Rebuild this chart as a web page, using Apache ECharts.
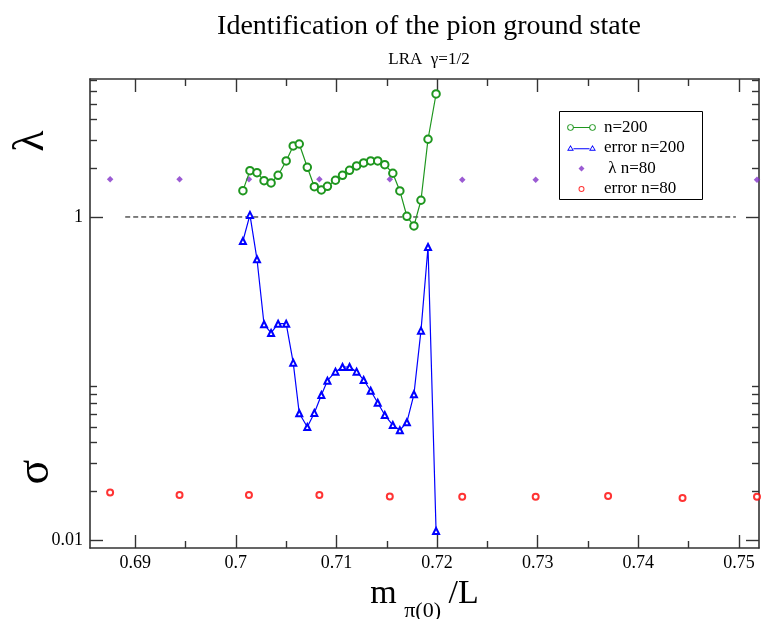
<!DOCTYPE html>
<html>
<head>
<meta charset="utf-8">
<script src="https://cdn.jsdelivr.net/npm/echarts@6/dist/echarts.min.js"></script>
<style>
html, body { margin: 0; padding: 0; background: #fff; }
#chart { width: 761px; height: 619px; }
</style>
</head>
<body>
<div id="chart"></div>
<script>
// ---- data ----
const n200X = [0.7007, 0.7014, 0.7021, 0.7028, 0.7035, 0.7042, 0.7050, 0.7057, 0.7063, 0.7071,
               0.7078, 0.7085, 0.7091, 0.7099, 0.7106, 0.7113, 0.7120, 0.7127, 0.7134, 0.7141,
               0.7148, 0.7156, 0.7163, 0.7170, 0.7177, 0.7184, 0.7191, 0.7199];
const n200Lambda = [1.455, 1.935, 1.880, 1.678, 1.624, 1.812, 2.222, 2.752, 2.831, 2.031,
                    1.540, 1.469, 1.549, 1.688, 1.812, 1.946, 2.069, 2.160, 2.222, 2.222,
                    2.108, 1.865, 1.449, 1.010, 0.880, 1.269, 3.028, 5.775];
const n200Error = [0.710, 1.030, 0.547, 0.2166, 0.1913, 0.2184, 0.2184, 0.1253, 0.0609, 0.0501,
                   0.0612, 0.0790, 0.0969, 0.1102, 0.1178, 0.1178, 0.1102, 0.0979, 0.0840, 0.0708,
                   0.0594, 0.0515, 0.0478, 0.0536, 0.0798, 0.1977, 0.652, 0.01137];

const n80X = [0.6875, 0.6944, 0.7013, 0.7083, 0.7153, 0.7225, 0.7298, 0.7370, 0.7444, 0.7518];
const n80Lambda = [1.71, 1.71, 1.71, 1.71, 1.71, 1.70, 1.70, 1.70, 1.70, 1.70];
const n80Error = [0.0197, 0.0190, 0.0190, 0.0190, 0.0186, 0.0185, 0.0185, 0.0187, 0.0182, 0.0185];

const refLineX = [0.689, 0.7497];
const refLineY = 1;

const xRange = [0.6855, 0.752];
const yRange = [0.00892, 7.15];
const xTicks = [0.69, 0.70, 0.71, 0.72, 0.73, 0.74, 0.75];
const xMinorTicks = [0.695, 0.705, 0.715, 0.725, 0.735, 0.745];
const yTicks = [0.01, 1];
const yTickLabels = ['0.01', '1'];
const yMinorTicks = [0.02, 0.03, 0.04, 0.05, 0.06, 0.07, 0.08, 0.09, 2, 3, 4, 5, 6, 7];

// ---- styling ----
const FONT = 'Liberation Serif, Times New Roman, serif';
const GREEN = '#1e961e';
const BLUE = '#0000ff';
const PURPLE = '#8232c8';
const RED = '#ff0000';
const AXIS = '#333';

const zip = (xs, ys) => xs.map((x, i) => [x, ys[i]]);
const lg = v => Math.log10(v);

// legend icons drawn in a 29x8 box; the two tiny segments pin the box extent
const FRAME = 'M0,0 L0.001,0 M29,8 L28.999,8 ';
function ring(cx, cy, R, r) {
  return `M${cx - R},${cy} A${R},${R} 0 1 1 ${cx + R},${cy} A${R},${R} 0 1 1 ${cx - R},${cy} Z ` +
         `M${cx - r},${cy} A${r},${r} 0 1 0 ${cx + r},${cy} A${r},${r} 0 1 0 ${cx - r},${cy} Z `;
}
function tri(cx, cy) {
  return `M${cx},${cy - 3.3} L${cx + 3.4},${cy + 2.5} L${cx - 3.4},${cy + 2.5} Z ` +
         `M${cx},${cy - 1.5} L${cx - 1.9},${cy + 1.5} L${cx + 1.9},${cy + 1.5} Z `;
}
function bar(x0, x1, cy) {
  return `M${x0},${cy - 0.55} L${x1},${cy - 0.55} L${x1},${cy + 0.55} L${x0},${cy + 0.55} Z `;
}
const iconGreen = 'path://' + FRAME + ring(3.5, 4, 3.3, 2.4) + bar(6.8, 22.2, 4) + ring(25.5, 4, 3.3, 2.4);
const iconBlue = 'path://' + FRAME + tri(3.5, 4.3) + bar(6.5, 22.5, 4.8) + tri(25.5, 4.3);
const iconPurple = 'path://' + FRAME + 'M14.5,1 L17.5,4 L14.5,7 L11.5,4 Z';
const iconRed = 'path://' + FRAME + ring(14.5, 4, 3, 2);

function tickAxis(kind, pos, values, len, withLine, withLabels) {
  const isY = kind === 'y';
  const ax = {
    type: 'value',
    position: pos,
    min: isY ? lg(yRange[0]) : xRange[0],
    max: isY ? lg(yRange[1]) : xRange[1],
    splitLine: { show: false },
    axisLine: { show: withLine, onZero: false, lineStyle: { color: AXIS, width: 1.6 } },
    axisTick: { show: true, inside: true, length: len, customValues: values,
                lineStyle: { color: AXIS, width: 1.4 } },
    axisLabel: { show: false }
  };
  if (withLabels) {
    ax.axisLabel = {
      show: true, customValues: values, color: '#000', fontFamily: FONT, fontSize: 18,
      margin: isY ? 7 : 6
    };
    if (isY) {
      ax.axisLabel.formatter = v => {
        const i = yTicks.findIndex(t => Math.abs(lg(t) - v) < 1e-6);
        return i >= 0 ? yTickLabels[i] : '';
      };
    }
  }
  return ax;
}

const chart = echarts.init(document.getElementById('chart'), null, { renderer: 'canvas' });

const xMain = tickAxis('x', 'bottom', xTicks, 13, true, true);
xMain.name = '{a|m}{s| }{b|π(0)}{s| }{a|/L}';
xMain.nameLocation = 'middle';
xMain.nameGap = 21;
xMain.nameTextStyle = {
  color: '#000', fontFamily: FONT,
  rich: {
    a: { fontSize: 34, lineHeight: 38, verticalAlign: 'top', fontFamily: FONT, color: '#000' },
    s: { fontSize: 30, lineHeight: 45, verticalAlign: 'top', fontFamily: FONT },
    b: { fontSize: 22, lineHeight: 22, verticalAlign: 'bottom', fontFamily: FONT, color: '#000' }
  }
};

const option = {
  animation: false,
  backgroundColor: '#fff',
  textStyle: { fontFamily: FONT },
  title: [
    { text: 'Identification of the pion ground state', left: 424, top: 8, textAlign: 'center',
      textStyle: { fontFamily: FONT, fontSize: 28, fontWeight: 'normal', color: '#000' } },
    { text: 'LRA  γ=1/2', left: 424, top: 46, textAlign: 'center',
      textStyle: { fontFamily: FONT, fontSize: 17, fontWeight: 'normal', color: '#000' } }
  ],
  grid: { left: 90, right: 2, top: 79, bottom: 71, containLabel: false, outerBoundsMode: 'none' },
  xAxis: [
    xMain,
    tickAxis('x', 'bottom', xMinorTicks, 7, false, false),
    tickAxis('x', 'top', xTicks, 13, true, false),
    tickAxis('x', 'top', xMinorTicks, 7, false, false)
  ],
  yAxis: [
    {
      type: 'log', logBase: 10, position: 'left', min: yRange[0], max: yRange[1],
      axisLine: { show: true, onZero: false, lineStyle: { color: AXIS, width: 1.6 } },
      axisTick: { show: false }, axisLabel: { show: false }, splitLine: { show: false },
      minorTick: { show: false }, minorSplitLine: { show: false }
    },
    tickAxis('y', 'left', yTicks.map(lg), 13, false, true),
    tickAxis('y', 'left', yMinorTicks.map(lg), 7, false, false),
    tickAxis('y', 'right', yTicks.map(lg), 13, true, false),
    tickAxis('y', 'right', yMinorTicks.map(lg), 7, false, false)
  ],
  legend: {
    orient: 'vertical', left: 567, top: 119, padding: 0, z: 20,
    itemWidth: 29, itemHeight: 8, itemGap: 3.5,
    itemStyle: { borderWidth: 0 },
    textStyle: { fontFamily: FONT, fontSize: 17, color: '#000', lineHeight: 16, padding: [0, 0, 0, 3] },
    selectedMode: false,
    data: [
      { name: 'n=200', icon: iconGreen },
      { name: 'error n=200', icon: iconBlue },
      { name: ' λ n=80', icon: iconPurple },
      { name: 'error n=80', icon: iconRed }
    ]
  },
  graphic: [
    { type: 'rect', z: 10, shape: { x: 559.5, y: 111.5, width: 143, height: 88 },
      style: { fill: '#fff', stroke: '#000', lineWidth: 1 } },
    { type: 'text', x: 31, y: 141, rotation: Math.PI / 2, z: 10,
      style: { text: 'λ', font: '44px ' + FONT, fill: '#000', align: 'center', verticalAlign: 'middle' } },
    { type: 'text', x: 36, y: 472, rotation: Math.PI / 2, z: 10,
      style: { text: 'σ', font: '46px ' + FONT, fill: '#000', align: 'center', verticalAlign: 'middle' } }
  ],
  series: [
    {
      name: 'ref', type: 'line', data: refLineX.map(x => [x, refLineY]),
      symbol: 'none', silent: true,
      lineStyle: { color: '#000', width: 1, type: [5, 3] }
    },
    {
      name: 'n=200', type: 'line', data: zip(n200X, n200Lambda),
      symbol: 'emptyCircle', symbolSize: 7.5,
      lineStyle: { color: GREEN, width: 1.2 },
      itemStyle: { color: GREEN, borderWidth: 1 }
    },
    {
      name: 'error n=200', type: 'line', data: zip(n200X, n200Error),
      symbol: 'emptyTriangle', symbolSize: 6,
      lineStyle: { color: BLUE, width: 1.2 },
      itemStyle: { color: BLUE, borderWidth: 1 }
    },
    {
      name: ' λ n=80', type: 'scatter', data: zip(n80X, n80Lambda),
      symbol: 'diamond', symbolSize: 6.5,
      itemStyle: { color: PURPLE }
    },
    {
      name: 'error n=80', type: 'scatter', data: zip(n80X, n80Error),
      symbol: 'emptyCircle', symbolSize: 6,
      itemStyle: { color: RED, borderWidth: 1.6 }
    }
  ]
};

chart.setOption(option);
</script>
</body>
</html>
